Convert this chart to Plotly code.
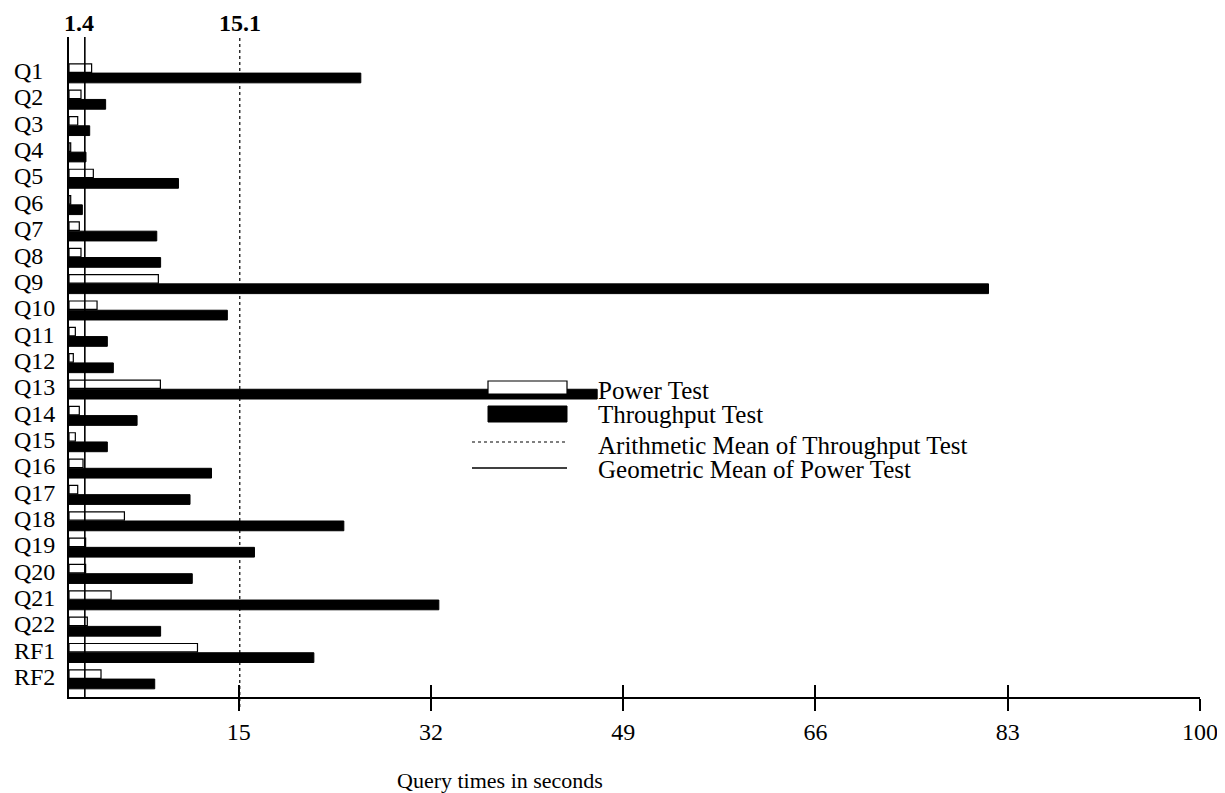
import plotly.graph_objects as go

categories = ["Q1", "Q2", "Q3", "Q4", "Q5", "Q6", "Q7", "Q8", "Q9", "Q10", "Q11", "Q12",
              "Q13", "Q14", "Q15", "Q16", "Q17", "Q18", "Q19", "Q20", "Q21", "Q22", "RF1", "RF2"]
power_test = [2.0, 1.06, 0.77, 0.15, 2.15, 0.15, 0.91, 1.06, 7.9, 2.48, 0.56, 0.38,
              8.08, 0.91, 0.56, 1.24, 0.77, 4.9, 1.47, 1.47, 3.72, 1.62, 11.36, 2.83]
throughput_test = [25.8, 3.24, 1.83, 1.5, 9.68, 1.18, 7.76, 8.1, 81.3, 14.0, 3.39, 3.92,
                   46.7, 6.02, 3.39, 12.6, 10.7, 24.3, 16.4, 10.9, 32.7, 8.1, 21.65, 7.58]
geo_mean_power = 1.4
arith_mean_throughput = 15.1
x_tickvals = [15, 32, 49, 66, 83, 100]
legend_labels = ["Power Test", "Throughput Test",
                 "Arithmetic Mean of Throughput Test", "Geometric Mean of Power Test"]

FONT = "Liberation Serif"
ypos = list(range(len(categories)))

fig = go.Figure()
fig.add_trace(go.Bar(
    y=ypos, x=power_test, orientation="h", name=legend_labels[0],
    offset=-0.35, width=0.32,
    marker=dict(color="white", line=dict(color="black", width=1.2)),
    showlegend=False,
))
fig.add_trace(go.Bar(
    y=ypos, x=throughput_test, orientation="h", name=legend_labels[1],
    offset=0.0, width=0.37,
    marker=dict(color="black", line=dict(color="black", width=1)),
    showlegend=False,
))
# helper invisible trace so the overlay axis (inside tick marks) is drawn
fig.add_trace(go.Scatter(x=[0], y=[0], xaxis="x2", yaxis="y", mode="markers",
                         marker=dict(opacity=0), showlegend=False, hoverinfo="skip"))

shapes = [
    dict(type="line", xref="x", yref="paper", x0=geo_mean_power, x1=geo_mean_power,
         y0=0, y1=1, line=dict(color="black", width=1.6), layer="above"),
    dict(type="line", xref="x", yref="paper", x0=arith_mean_throughput, x1=arith_mean_throughput,
         y0=-0.015, y1=1, line=dict(color="black", width=1.2, dash="dot"), layer="above"),
]

# legend (drawn manually to get wide bar swatches); positions relative to plot area
def px_x(p):
    return (p - 69) / 1131.0

def px_y(p):
    return (697 - p) / 660.0

shapes += [
    dict(type="rect", xref="paper", yref="paper", x0=px_x(488), x1=px_x(567),
         y0=px_y(394), y1=px_y(381), fillcolor="white", line=dict(color="black", width=1.2),
         layer="above"),
    dict(type="rect", xref="paper", yref="paper", x0=px_x(488), x1=px_x(567),
         y0=px_y(422), y1=px_y(406), fillcolor="black", line=dict(color="black", width=1),
         layer="above"),
    dict(type="line", xref="paper", yref="paper", x0=px_x(472), x1=px_x(567),
         y0=px_y(442), y1=px_y(442), line=dict(color="black", width=1.2, dash="dot"),
         layer="above"),
    dict(type="line", xref="paper", yref="paper", x0=px_x(472), x1=px_x(567),
         y0=px_y(468), y1=px_y(468), line=dict(color="black", width=1.4), layer="above"),
]

annotations = []
for lbl, yc in zip(legend_labels, [390, 414, 445, 470]):
    annotations.append(dict(text=lbl, xref="paper", yref="paper", x=px_x(596), y=px_y(yc),
                            xanchor="left", yanchor="middle", showarrow=False,
                            font=dict(family=FONT, size=25, color="black")))

for i, cat in enumerate(categories):
    annotations.append(dict(text=cat, xref="paper", yref="y", x=px_x(12), y=i,
                            xanchor="left", yanchor="middle", yshift=2, showarrow=False,
                            font=dict(family=FONT, size=24, color="black")))

annotations.append(dict(text="<b>%s</b>" % geo_mean_power, xref="x", yref="paper",
                        x=geo_mean_power, y=px_y(23), xanchor="center", yanchor="middle",
                        xshift=-6, showarrow=False,
                        font=dict(family=FONT, size=24, color="black")))
annotations.append(dict(text="<b>%s</b>" % arith_mean_throughput, xref="x", yref="paper",
                        x=arith_mean_throughput, y=px_y(23), xanchor="center",
                        yanchor="middle", showarrow=False,
                        font=dict(family=FONT, size=24, color="black")))
annotations.append(dict(text="Query times in seconds", xref="paper", yref="paper",
                        x=px_x(500), y=px_y(780), xanchor="center", yanchor="middle",
                        showarrow=False, font=dict(family=FONT, size=22, color="black")))

# page body has an 8px margin: shift the figure up/left to compensate
fig.update_layout(
    width=1225, height=793,
    margin=dict(l=61, r=33, t=29, b=104, pad=0),
    paper_bgcolor="white", plot_bgcolor="white",
    barmode="overlay",
    showlegend=False,
    font=dict(family=FONT, size=24, color="black"),
    xaxis=dict(range=[0, 100], tickmode="array", tickvals=x_tickvals,
               ticktext=[str(v) for v in x_tickvals],
               ticks="outside", ticklen=12, tickwidth=1.5, tickcolor="black",
               showline=True, linecolor="black", linewidth=2,
               showgrid=False, zeroline=False, ticklabelstandoff=0,
               tickfont=dict(family=FONT, size=24, color="black")),
    xaxis2=dict(range=[0, 100], overlaying="x", anchor="y", side="bottom",
                tickmode="array", tickvals=x_tickvals, ticks="inside", ticklen=12,
                tickwidth=1.5, tickcolor="black", showticklabels=False,
                showline=False, showgrid=False, zeroline=False),
    yaxis=dict(range=[23.68, -1.37], showticklabels=False, ticks="",
               showline=True, linecolor="black", linewidth=2,
               showgrid=False, zeroline=False),
    shapes=shapes,
    annotations=annotations,
)

fig.write_html("out.html")
